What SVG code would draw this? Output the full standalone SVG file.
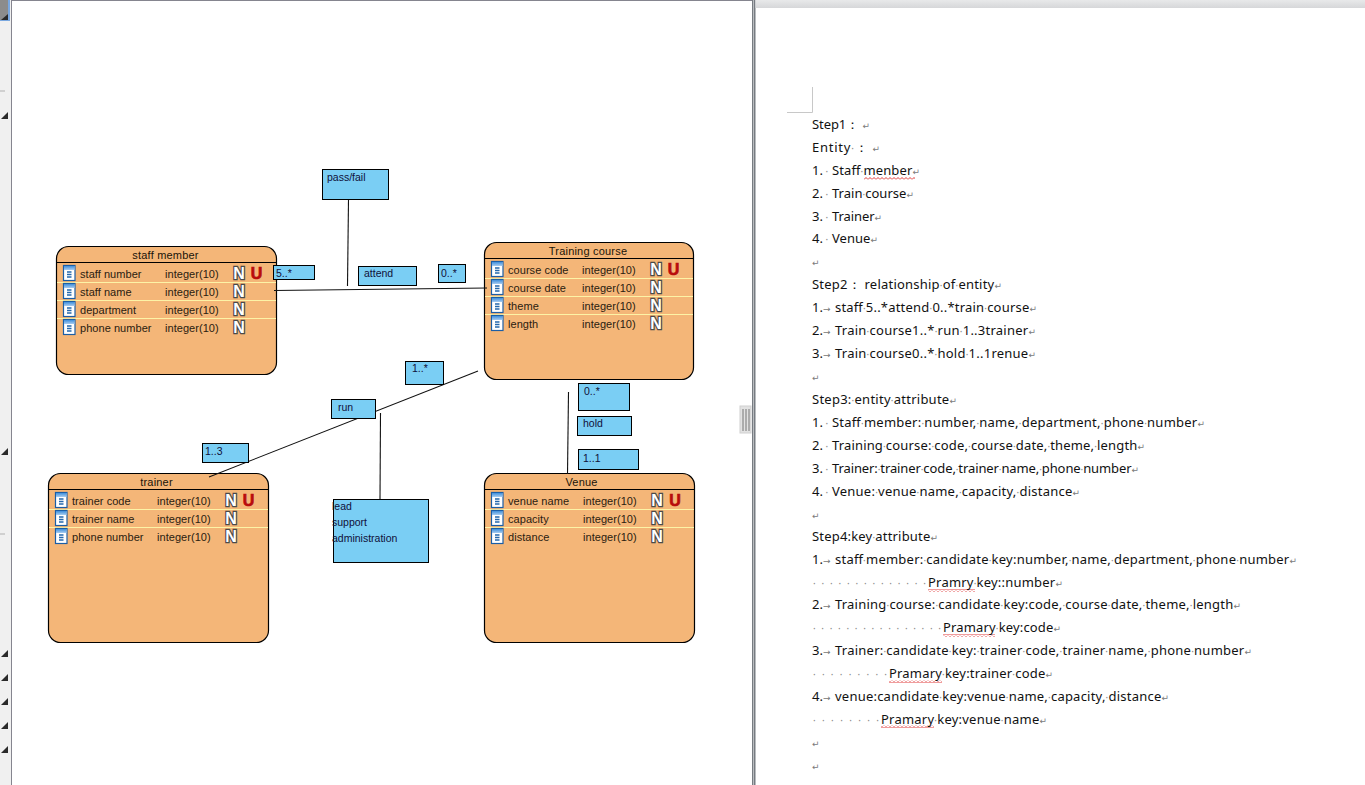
<svg xmlns="http://www.w3.org/2000/svg" width="1365" height="785" viewBox="0 0 1365 785">
<style>
.ent{fill:#f4b678;stroke:#000;stroke-width:1.2}
.hd{stroke:#000;stroke-width:1.2}
.rw{stroke:#fdf3a6;stroke-width:1.2}
text{font-family:"Liberation Sans",Arial,sans-serif}
.t{font-size:11px;fill:#2a2010;letter-spacing:.05px}
.tt{font-size:11px;fill:#1a1408;text-anchor:middle;letter-spacing:.2px}
.n{font-size:16px;font-weight:bold;fill:#fff;stroke:#4a4a4a;stroke-width:2.4px;paint-order:stroke;text-anchor:middle}
.u{font-size:16px;font-weight:bold;fill:#b80c0c;stroke:#b80c0c;stroke-width:.7px;text-anchor:middle}
.b{fill:#7acef4;stroke:#000;stroke-width:1}
.bt{font-size:10.500px;fill:#10103a}
.c{stroke:#111;stroke-width:1.100;fill:none}
.d{font-family:"Noto Sans","Open Sans",sans-serif;font-size:13px;fill:#111}
.m{fill:#8a8a8a;font-size:10px}
.a{font-family:"DejaVu Sans",sans-serif;fill:#777;font-size:9px}
.r{font-family:"DejaVu Sans",sans-serif;fill:#7a7a7a;font-size:9px}
.tri{fill:#2a2a2a}
</style>
<defs>
<linearGradient id="ig" x1="0" y1="0" x2="0" y2="1"><stop offset="0" stop-color="#3f8fdc"/><stop offset="1" stop-color="#a9cdf0"/></linearGradient>
<linearGradient id="bar" x1="0" y1="0" x2="0" y2="1"><stop offset="0" stop-color="#e8e9ea"/><stop offset="1" stop-color="#d6d7d9"/></linearGradient>
<pattern id="sq" patternUnits="userSpaceOnUse" width="4" height="3"><path d="M0 2.500L2 .5L4 2.500" fill="none" stroke="#d22" stroke-width=".9"/></pattern>
<symbol id="ic" width="13" height="16" viewBox="0 0 13 16" overflow="visible">
<rect x=".5" y=".5" width="11.500" height="15" fill="#fff" stroke="#1b5ea6" stroke-width="1.200"/>
<rect x="1" y="1" width="10.500" height="4" fill="url(#ig)"/>
<path d="M4 7h4.500M4 9.500h4.500M4 12h4.500" stroke="#2468ad" stroke-width="1.300"/>
</symbol>
</defs>
<rect width="1365" height="785" fill="#fff"/>

<g id="chrome">
<rect x="0" y="0" width="11" height="785" fill="#f0f0f0"/>
<rect x="0" y="0" width="10" height="21" fill="#7aa8e0"/>
<rect x="0" y="0" width="8" height="20" fill="#8c8c8c"/>
<path class="tri" d="M8 14V20H1Z"/>
<rect x="0" y="90" width="5" height="2" fill="#d0d0d0"/>
<rect x="0" y="533" width="5" height="2" fill="#d0d0d0"/>
<path class="tri" d="M8 112V119H1Z"/>
<path class="tri" d="M8 448V455H1Z"/>
<path class="tri" d="M8 650V657H1Z"/>
<path class="tri" d="M8 674V681H1Z"/>
<path class="tri" d="M8 698V705H1Z"/>
<path class="tri" d="M8 722V729H1Z"/>
<path class="tri" d="M8 746V753H1Z"/>
<rect x="11" y="0" width="1" height="785" fill="#85858f"/>
<rect x="11" y="0" width="742" height="1" fill="#85858f"/>
<rect x="752" y="0" width="1.500" height="785" fill="#777c82"/>
<rect x="754" y="0" width="1.500" height="785" fill="#777c82"/>
<rect x="755.500" y="0" width="609.500" height="8" fill="url(#bar)"/>
<rect x="740" y="406" width="11" height="27" fill="#e2e2e2" stroke="#d0d0d0"/>
<path d="M743 409V431M746 409V431M749 409V431" stroke="#888" stroke-width="1.200"/>
<path d="M812.500 87V112.500H787" fill="none" stroke="#c8c8c8"/>
</g>

<g id="staff-member">
<rect class="ent" x="56.500" y="246.500" width="220" height="128" rx="12"/>
<path class="hd" d="M57 262.500H276"/>
<path class="rw" d="M57 282.500H276M57 300.500H276M57 318.500H276"/>
<text class="tt" x="165.500" y="259">staff member</text>
<use href="#ic" x="63" y="265"/><use href="#ic" x="63" y="283"/><use href="#ic" x="63" y="301"/><use href="#ic" x="63" y="319"/>
<text class="t" x="80" y="278">staff number</text><text class="t" x="165" y="278">integer(10)</text><text class="n" x="239" y="279">N</text><text class="u" x="256.500" y="279">U</text>
<text class="t" x="80" y="296">staff name</text><text class="t" x="165" y="296">integer(10)</text><text class="n" x="239" y="297">N</text>
<text class="t" x="80" y="314">department</text><text class="t" x="165" y="314">integer(10)</text><text class="n" x="239" y="315">N</text>
<text class="t" x="80" y="332">phone number</text><text class="t" x="165" y="332">integer(10)</text><text class="n" x="239" y="333">N</text>
</g>

<g id="training-course">
<rect class="ent" x="484.500" y="242.500" width="209" height="137" rx="12"/>
<path class="hd" d="M485 258.500H693"/>
<path class="rw" d="M485 278.500H693M485 296.500H693M485 314.500H693"/>
<text class="tt" x="588" y="255">Training course</text>
<use href="#ic" x="491" y="261"/><use href="#ic" x="491" y="279"/><use href="#ic" x="491" y="297"/><use href="#ic" x="491" y="315"/>
<text class="t" x="508" y="274">course code</text><text class="t" x="582" y="274">integer(10)</text><text class="n" x="656" y="275">N</text><text class="u" x="673.500" y="275">U</text>
<text class="t" x="508" y="292">course date</text><text class="t" x="582" y="292">integer(10)</text><text class="n" x="656" y="293">N</text>
<text class="t" x="508" y="310">theme</text><text class="t" x="582" y="310">integer(10)</text><text class="n" x="656" y="311">N</text>
<text class="t" x="508" y="328">length</text><text class="t" x="582" y="328">integer(10)</text><text class="n" x="656" y="329">N</text>
</g>

<g id="trainer">
<rect class="ent" x="48.500" y="473.500" width="220" height="169" rx="12"/>
<path class="hd" d="M49 489.500H268"/>
<path class="rw" d="M49 509.500H268M49 527.500H268"/>
<text class="tt" x="156.500" y="486">trainer</text>
<use href="#ic" x="55" y="492"/><use href="#ic" x="55" y="510"/><use href="#ic" x="55" y="528"/>
<text class="t" x="72" y="505">trainer code</text><text class="t" x="157" y="505">integer(10)</text><text class="n" x="231" y="506">N</text><text class="u" x="248.500" y="506">U</text>
<text class="t" x="72" y="523">trainer name</text><text class="t" x="157" y="523">integer(10)</text><text class="n" x="231" y="524">N</text>
<text class="t" x="72" y="541">phone number</text><text class="t" x="157" y="541">integer(10)</text><text class="n" x="231" y="542">N</text>
</g>

<g id="venue">
<rect class="ent" x="484.500" y="473.500" width="210" height="169" rx="12"/>
<path class="hd" d="M485 489.500H694"/>
<path class="rw" d="M485 509.500H694M485 527.500H694"/>
<text class="tt" x="581.500" y="486">Venue</text>
<use href="#ic" x="491" y="492"/><use href="#ic" x="491" y="510"/><use href="#ic" x="491" y="528"/>
<text class="t" x="508" y="505">venue name</text><text class="t" x="583" y="505">integer(10)</text><text class="n" x="657" y="506">N</text><text class="u" x="675" y="506">U</text>
<text class="t" x="508" y="523">capacity</text><text class="t" x="583" y="523">integer(10)</text><text class="n" x="657" y="524">N</text>
<text class="t" x="508" y="541">distance</text><text class="t" x="583" y="541">integer(10)</text><text class="n" x="657" y="542">N</text>
</g>

<g id="connectors">
<path class="c" d="M274 290.500L487 288"/>
<path class="c" d="M348.500 199L347.500 286"/>
<path class="c" d="M478 371L209 477"/>
<path class="c" d="M380.500 413L380 499"/>
<path class="c" d="M568.500 392L567.500 474"/>
</g>

<g id="label-pass-fail"><rect class="b" x="322.500" y="169.500" width="66" height="30"/><text class="bt" x="327" y="181">pass/fail</text></g>
<g id="label-5-many"><rect class="b" x="273.500" y="265.500" width="41" height="14"/><text class="bt" x="276" y="277">5..*</text></g>
<g id="label-attend"><rect class="b" x="358.500" y="266.500" width="58" height="19"/><text class="bt" x="364" y="277">attend</text></g>
<g id="label-0-many"><rect class="b" x="438.500" y="264.500" width="27" height="18"/><text class="bt" x="441" y="277">0..*</text></g>
<g id="label-1-many"><rect class="b" x="405.500" y="361.500" width="38" height="23"/><text class="bt" x="412" y="372">1..*</text></g>
<g id="label-run"><rect class="b" x="331.500" y="399.500" width="44" height="19"/><text class="bt" x="338" y="411">run</text></g>
<g id="label-1-3"><rect class="b" x="202.500" y="443.500" width="46" height="19"/><text class="bt" x="205" y="455">1..3</text></g>
<g id="label-roles"><rect class="b" x="333.500" y="499.500" width="95" height="63"/><text class="bt" x="332" y="510">lead</text><text class="bt" x="332" y="526">support</text><text class="bt" x="332" y="542">administration</text></g>
<g id="label-0-many-2"><rect class="b" x="578.500" y="383.500" width="51" height="27"/><text class="bt" x="584" y="395">0..*</text></g>
<g id="label-hold"><rect class="b" x="577.500" y="416.500" width="54" height="19"/><text class="bt" x="583" y="427">hold</text></g>
<g id="label-1-1"><rect class="b" x="578.500" y="449.500" width="60" height="20"/><text class="bt" x="583" y="462">1..1</text></g>

<g id="document">
<rect x="864" y="177" width="51" height="3" fill="url(#sq)"/>
<rect x="928" y="589" width="47" height="3" fill="url(#sq)"/>
<rect x="943" y="634" width="52" height="3" fill="url(#sq)"/>
<rect x="889" y="680" width="53" height="3" fill="url(#sq)"/>
<rect x="881" y="725" width="53" height="3" fill="url(#sq)"/>
<text class="d" x="812" y="129" textLength="58" lengthAdjust="spacing">Step1： <tspan class="r">↵</tspan></text>
<text class="d" x="812" y="152" textLength="68" lengthAdjust="spacing">Entity<tspan class="m">·</tspan>： <tspan class="r">↵</tspan></text>
<text class="d" x="812" y="175">1.<tspan class="m"> ·</tspan></text><text class="d" x="832" y="175" textLength="88" lengthAdjust="spacing">Staff<tspan class="m">·</tspan>menber<tspan class="r">↵</tspan></text>
<text class="d" x="812" y="198">2.<tspan class="m"> ·</tspan></text><text class="d" x="832" y="198" textLength="82" lengthAdjust="spacing">Train<tspan class="m">·</tspan>course<tspan class="r">↵</tspan></text>
<text class="d" x="812" y="221">3.<tspan class="m"> ·</tspan></text><text class="d" x="832" y="221" textLength="50" lengthAdjust="spacing">Trainer<tspan class="r">↵</tspan></text>
<text class="d" x="812" y="243">4.<tspan class="m"> ·</tspan></text><text class="d" x="832" y="243" textLength="46" lengthAdjust="spacing">Venue<tspan class="r">↵</tspan></text>
<text class="d" x="812" y="266"><tspan class="r">↵</tspan></text>
<text class="d" x="812" y="289" textLength="190" lengthAdjust="spacing">Step2： relationship<tspan class="m">·</tspan>of<tspan class="m">·</tspan>entity<tspan class="r">↵</tspan></text>
<text class="d" x="812" y="312">1.<tspan class="a">→</tspan></text><text class="d" x="835" y="312" textLength="202" lengthAdjust="spacing">staff<tspan class="m">·</tspan>5..*attend<tspan class="m">·</tspan>0..*train<tspan class="m">·</tspan>course<tspan class="r">↵</tspan></text>
<text class="d" x="812" y="335">2.<tspan class="a">→</tspan></text><text class="d" x="835" y="335" textLength="201" lengthAdjust="spacing">Train<tspan class="m">·</tspan>course1..*<tspan class="m">·</tspan>run<tspan class="m">·</tspan>1..3trainer<tspan class="r">↵</tspan></text>
<text class="d" x="812" y="358">3.<tspan class="a">→</tspan></text><text class="d" x="835" y="358" textLength="201" lengthAdjust="spacing">Train<tspan class="m">·</tspan>course0..*<tspan class="m">·</tspan>hold<tspan class="m">·</tspan>1..1renue<tspan class="r">↵</tspan></text>
<text class="d" x="812" y="381"><tspan class="r">↵</tspan></text>
<text class="d" x="812" y="404" textLength="145" lengthAdjust="spacing">Step3:<tspan class="m">·</tspan>entity<tspan class="m">·</tspan>attribute<tspan class="r">↵</tspan></text>
<text class="d" x="812" y="427">1.<tspan class="m"> ·</tspan></text><text class="d" x="832" y="427" textLength="373" lengthAdjust="spacing">Staff<tspan class="m">·</tspan>member:<tspan class="m">·</tspan>number,<tspan class="m">·</tspan>name,<tspan class="m">·</tspan>department,<tspan class="m">·</tspan>phone<tspan class="m">·</tspan>number<tspan class="r">↵</tspan></text>
<text class="d" x="812" y="450">2.<tspan class="m"> ·</tspan></text><text class="d" x="832" y="450" textLength="313" lengthAdjust="spacing">Training<tspan class="m">·</tspan>course:<tspan class="m">·</tspan>code,<tspan class="m">·</tspan>course<tspan class="m">·</tspan>date,<tspan class="m">·</tspan>theme,<tspan class="m">·</tspan>length<tspan class="r">↵</tspan></text>
<text class="d" x="812" y="473">3.<tspan class="m"> ·</tspan></text><text class="d" x="832" y="473" textLength="307" lengthAdjust="spacing">Trainer:<tspan class="m">·</tspan>trainer<tspan class="m">·</tspan>code,<tspan class="m">·</tspan>trainer<tspan class="m">·</tspan>name,<tspan class="m">·</tspan>phone<tspan class="m">·</tspan>number<tspan class="r">↵</tspan></text>
<text class="d" x="812" y="496">4.<tspan class="m"> ·</tspan></text><text class="d" x="832" y="496" textLength="248" lengthAdjust="spacing">Venue:<tspan class="m">·</tspan>venue<tspan class="m">·</tspan>name,<tspan class="m">·</tspan>capacity,<tspan class="m">·</tspan>distance<tspan class="r">↵</tspan></text>
<text class="d" x="812" y="519"><tspan class="r">↵</tspan></text>
<text class="d" x="812" y="541" textLength="126" lengthAdjust="spacing">Step4:key<tspan class="m">·</tspan>attribute<tspan class="r">↵</tspan></text>
<text class="d" x="812" y="564">1.<tspan class="a">→</tspan></text><text class="d" x="835" y="564" textLength="462" lengthAdjust="spacing">staff<tspan class="m">·</tspan>member:<tspan class="m">·</tspan>candidate<tspan class="m">·</tspan>key:number,<tspan class="m">·</tspan>name,<tspan class="m">·</tspan>department,<tspan class="m">·</tspan>phone<tspan class="m">·</tspan>number<tspan class="r">↵</tspan></text>
<text class="d m" x="813" y="587" textLength="113" lengthAdjust="spacing">··············</text>
<text class="d" x="928" y="587" textLength="135" lengthAdjust="spacing">Pramry<tspan class="m">·</tspan>key::number<tspan class="r">↵</tspan></text>
<text class="d" x="812" y="609">2.<tspan class="a">→</tspan></text><text class="d" x="835" y="609" textLength="406" lengthAdjust="spacing">Training<tspan class="m">·</tspan>course:<tspan class="m">·</tspan>candidate<tspan class="m">·</tspan>key:code,<tspan class="m">·</tspan>course<tspan class="m">·</tspan>date,<tspan class="m">·</tspan>theme,<tspan class="m">·</tspan>length<tspan class="r">↵</tspan></text>
<text class="d m" x="813" y="632" textLength="128" lengthAdjust="spacing">················</text>
<text class="d" x="943" y="632" textLength="118" lengthAdjust="spacing">Pramary<tspan class="m">·</tspan>key:code<tspan class="r">↵</tspan></text>
<text class="d" x="812" y="655">3.<tspan class="a">→</tspan></text><text class="d" x="835" y="655" textLength="417" lengthAdjust="spacing">Trainer:<tspan class="m">·</tspan>candidate<tspan class="m">·</tspan>key:<tspan class="m">·</tspan>trainer<tspan class="m">·</tspan>code,<tspan class="m">·</tspan>trainer<tspan class="m">·</tspan>name,<tspan class="m">·</tspan>phone<tspan class="m">·</tspan>number<tspan class="r">↵</tspan></text>
<text class="d m" x="813" y="678" textLength="74" lengthAdjust="spacing">·········</text>
<text class="d" x="889" y="678" textLength="164" lengthAdjust="spacing">Pramary<tspan class="m">·</tspan>key:trainer<tspan class="m">·</tspan>code<tspan class="r">↵</tspan></text>
<text class="d" x="812" y="701">4.<tspan class="a">→</tspan></text><text class="d" x="835" y="701" textLength="334" lengthAdjust="spacing">venue:candidate<tspan class="m">·</tspan>key:venue<tspan class="m">·</tspan>name,<tspan class="m">·</tspan>capacity,<tspan class="m">·</tspan>distance<tspan class="r">↵</tspan></text>
<text class="d m" x="813" y="724" textLength="66" lengthAdjust="spacing">········</text>
<text class="d" x="881" y="724" textLength="166" lengthAdjust="spacing">Pramary<tspan class="m">·</tspan>key:venue<tspan class="m">·</tspan>name<tspan class="r">↵</tspan></text>
<text class="d" x="812" y="747"><tspan class="r">↵</tspan></text>
<text class="d" x="812" y="770"><tspan class="r">↵</tspan></text>
</g>
</svg>
